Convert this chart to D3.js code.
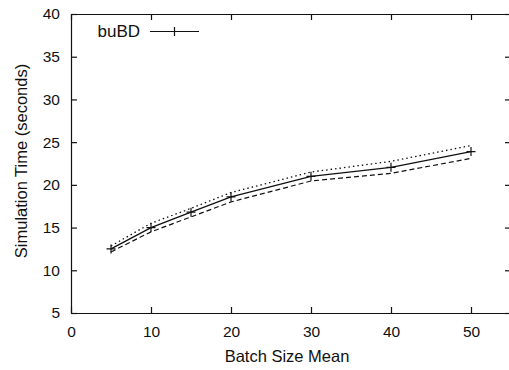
<!DOCTYPE html>
<html>
<head>
<meta charset="utf-8">
<script src="https://cdn.jsdelivr.net/npm/d3@7"></script>
<style>
  html, body { margin: 0; padding: 0; background: #fff; }
  svg { display: block; }
  text { font-family: "Liberation Sans", Arial, Helvetica, sans-serif; fill: #111; }
</style>
</head>
<body>
<svg id="chart" width="509" height="370"></svg>
<script>
// Batch size mean vs. simulation time for buBD, with upper/lower bounds
const batchSizes = [5, 10, 15, 20, 30, 40, 50];
const meanTime   = [12.5, 15.0, 16.8, 18.6, 21.0, 22.05, 23.9];
const upperTime  = [12.85, 15.5, 17.25, 19.1, 21.5, 22.75, 24.6];
const lowerTime  = [12.15, 14.5, 16.25, 18.0, 20.45, 21.35, 23.1];
const xTicks = [0, 10, 20, 30, 40, 50];
const yTicks = [5, 10, 15, 20, 25, 30, 35, 40];
const seriesName = "buBD";

const svg = d3.select("#chart");
const plotL = 71, plotR = 511, plotT = 14, plotB = 313;

const x = d3.scaleLinear().domain([0, 55]).range([plotL, plotR]);
const y = d3.scaleLinear().domain([5, 40]).range([plotB, plotT]);

const tickLen = 6;
const tickFont = 15.5, titleFont = 16.5;
const g = svg.append("g");

// Axes: labelled bottom/left, mirrored inward ticks on top/right
const axB = d3.axisBottom(x).tickValues(xTicks).tickSizeInner(-tickLen).tickSizeOuter(0).tickPadding(13);
const axT = d3.axisTop(x).tickValues(xTicks).tickSizeInner(-tickLen).tickSizeOuter(0).tickFormat("");
const axL = d3.axisLeft(y).tickValues(yTicks).tickSizeInner(-tickLen).tickSizeOuter(0).tickPadding(11);
const axR = d3.axisRight(y).tickValues(yTicks).tickSizeInner(-tickLen).tickSizeOuter(0).tickFormat("");

function style(sel) {
  sel.selectAll("path").attr("stroke", "#111").attr("stroke-width", 1.2);
  sel.selectAll("line").attr("stroke", "#111").attr("stroke-width", 1.2);
  sel.selectAll("text").attr("font-size", tickFont).attr("fill", "#111")
     .attr("font-family", '"Liberation Sans", Arial, sans-serif');
}
g.append("g").attr("transform", `translate(0,${plotB})`).call(axB).call(style);
g.append("g").attr("transform", `translate(0,${plotT})`).call(axT).call(style);
g.append("g").attr("transform", `translate(${plotL},0)`).call(axL).call(style);
g.append("g").attr("transform", `translate(${plotR},0)`).call(axR).call(style);

// Axis titles
svg.append("text")
  .attr("x", 287).attr("y", 362)
  .attr("text-anchor", "middle").attr("font-size", titleFont)
  .text("Batch Size Mean");
svg.append("text")
  .attr("transform", "translate(27,161) rotate(-90)")
  .attr("text-anchor", "middle").attr("font-size", titleFont)
  .text("Simulation Time (seconds)");

// Lines
const line = vals => d3.line().x((d, i) => x(batchSizes[i])).y(d => y(d))(vals);

svg.append("path").attr("d", line(upperTime))
  .attr("fill", "none").attr("stroke", "#111").attr("stroke-width", 1.3)
  .attr("stroke-dasharray", "1.5,3");
svg.append("path").attr("d", line(lowerTime))
  .attr("fill", "none").attr("stroke", "#111").attr("stroke-width", 1.2)
  .attr("stroke-dasharray", "5,3");
svg.append("path").attr("d", line(meanTime))
  .attr("fill", "none").attr("stroke", "#111").attr("stroke-width", 1.3);

// Plus markers on the mean line
const m = 4.5;
svg.append("g").selectAll("path")
  .data(meanTime)
  .join("path")
  .attr("d", (d, i) => {
    const cx = x(batchSizes[i]), cy = y(d);
    return `M${cx - m},${cy}H${cx + m}M${cx},${cy - m}V${cy + m}`;
  })
  .attr("stroke", "#111").attr("stroke-width", 1.2).attr("fill", "none");

// Legend
svg.append("text")
  .attr("x", 140).attr("y", 37).attr("text-anchor", "end").attr("font-size", 17)
  .text(seriesName);
svg.append("line")
  .attr("x1", 150).attr("x2", 199).attr("y1", 31.5).attr("y2", 31.5)
  .attr("stroke", "#111").attr("stroke-width", 1.2);
svg.append("path")
  .attr("d", `M174.5,${31.5 - m}V${31.5 + m}`)
  .attr("stroke", "#111").attr("stroke-width", 1.2);
</script>
</body>
</html>
